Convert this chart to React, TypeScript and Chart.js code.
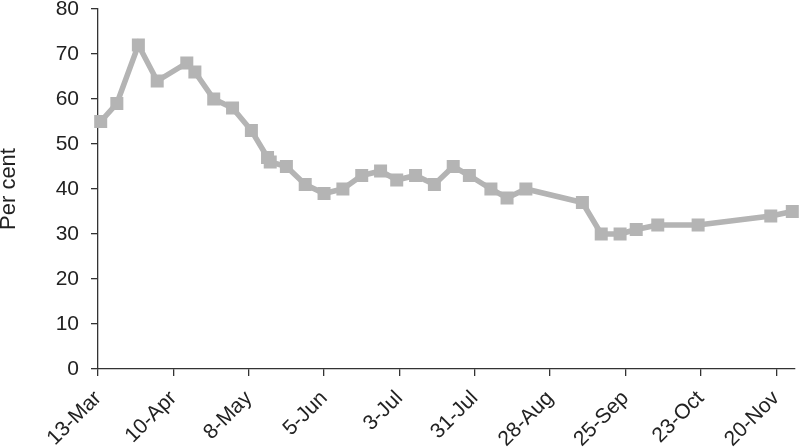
import React, { useEffect, useRef } from "react";
import { Chart, registerables } from "chart.js";

Chart.register(...registerables);

// days since 13-Mar
const days = [1, 7, 15, 22, 33, 36, 43, 50, 57, 63, 64, 70, 77, 84, 91, 98, 105, 111, 118, 125, 132, 138, 146, 152, 159, 180, 187, 194, 200, 208, 223, 250, 258];
const values = [55, 59, 72, 64, 68, 66, 60, 58, 53, 47, 46, 45, 41, 39, 40, 43, 44, 42, 43, 41, 45, 43, 40, 38, 40, 37, 30, 30, 31, 32, 32, 34, 35];
const xTickLabels = ["13-Mar", "10-Apr", "8-May", "5-Jun", "3-Jul", "31-Jul", "28-Aug", "25-Sep", "23-Oct", "20-Nov"];
const yTitle = "Per cent";

export default function App() {
  const ref = useRef<HTMLCanvasElement>(null);
  useEffect(() => {
    document.body.style.margin = "0";
    const family = "'Liberation Sans', Arial, sans-serif";
    const chart = new Chart(ref.current!, {
      type: "line",
      data: {
        datasets: [
          {
            data: days.map((d, i) => ({ x: d, y: values[i] })),
            borderColor: "#b4b4b4",
            backgroundColor: "#b4b4b4",
            borderWidth: 5.5,
            pointStyle: "rect",
            pointRadius: 9.2,
            pointBorderWidth: 0,
            tension: 0,
            clip: 10,
          },
        ],
      },
      options: {
        animation: false,
        responsive: false,
        layout: { autoPadding: false, padding: { top: 9, right: 5, left: 0, bottom: 0 } },
        plugins: { legend: { display: false }, tooltip: { enabled: false } },
        scales: {
          x: {
            type: "linear",
            min: 0,
            max: 259,
            afterFit: (s: any) => { s.height = 79; s.paddingLeft = 0; s.paddingRight = 0; },
            border: { display: true, color: "#333", width: 1.3 },
            grid: { drawOnChartArea: false, drawTicks: true, tickLength: 7, color: "#333", lineWidth: 1.3 },
            ticks: {
              stepSize: 28,
              includeBounds: false,
              minRotation: 45,
              maxRotation: 45,
              padding: 10,
              color: "#222",
              font: { family, size: 21 },
              callback: (v: any) => xTickLabels[Math.round(Number(v) / 28)] ?? "",
            },
          },
          y: {
            min: 0,
            max: 80,
            afterFit: (s: any) => { s.width = 98; s.paddingTop = 0; s.paddingBottom = 0; },
            border: { display: true, color: "#333", width: 1.3 },
            grid: { drawOnChartArea: false, drawTicks: true, tickLength: 7, color: "#333", lineWidth: 1.3 },
            ticks: { stepSize: 10, padding: 12, color: "#222", font: { family, size: 21 } },
            title: { display: true, text: yTitle, color: "#222", font: { family, size: 22 }, padding: { top: -4, bottom: 0 } },
          },
        },
      },
    });
    return () => chart.destroy();
  }, []);
  return (
    <div style={{ width: 800, height: 448 }}>
      <canvas ref={ref} width={800} height={448} style={{ display: "block" }} />
    </div>
  );
}
